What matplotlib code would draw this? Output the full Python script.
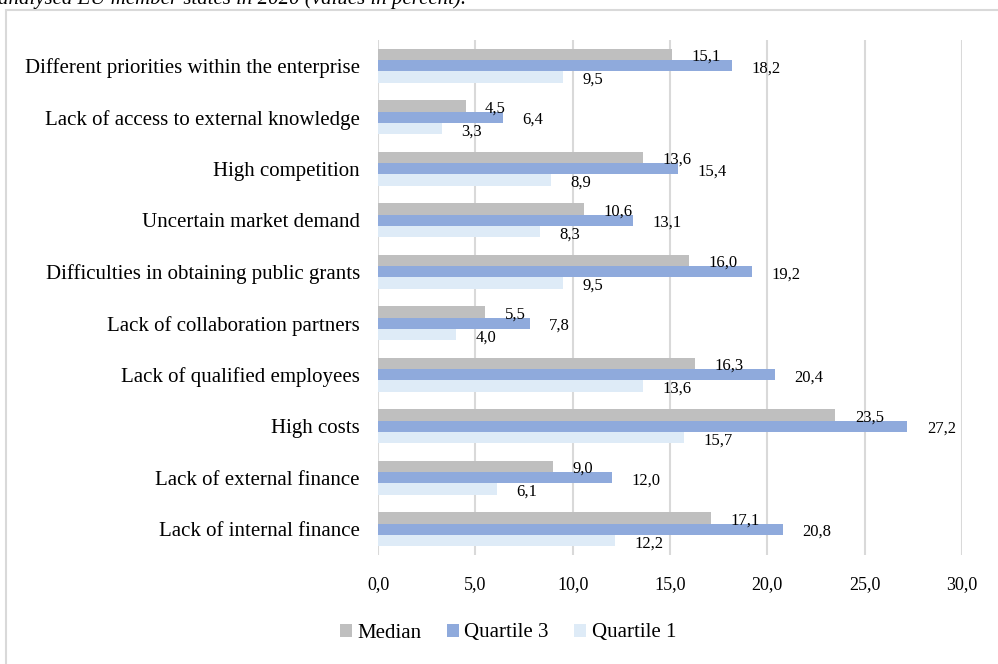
import numpy as np
import matplotlib.pyplot as plt
from matplotlib.patches import Rectangle

# data, top to bottom as in the chart
categories = ['Different priorities within the enterprise',
              'Lack of access to external knowledge',
              'High competition',
              'Uncertain market demand',
              'Difficulties in obtaining public grants',
              'Lack of collaboration partners',
              'Lack of qualified employees',
              'High costs',
              'Lack of external finance',
              'Lack of internal finance']
median = [15.1, 4.5, 13.6, 10.6, 16.0, 5.5, 16.3, 23.5, 9.0, 17.1]
quartile3 = [18.2, 6.4, 15.4, 13.1, 19.2, 7.8, 20.4, 27.2, 12.0, 20.8]
quartile1 = [9.5, 3.3, 8.9, 8.3, 9.5, 4.0, 13.6, 15.7, 6.1, 12.2]
xticks = [0, 5, 10, 15, 20, 25, 30]

plt.rcParams['font.family'] = ['Liberation Serif', 'DejaVu Serif']

W, H = 998, 664
fig = plt.figure(figsize=(W / 100, H / 100), dpi=100)

# chart border (runs off the right and bottom edge)
fig.patches.append(Rectangle((6 / W, -0.05), 1.1, 1 - 10 / H + 0.05,
                             transform=fig.transFigure, fill=False,
                             edgecolor='#d9d9d9', lw=1.5, zorder=0))
# clipped caption line from the page above the chart
fig.text(-0.002, 1 - 4 / H, 'analysed EU member states in 2020 (values in percent).',
         fontsize=15, style='italic', va='baseline', ha='left')

ax = fig.add_axes([378 / W, 1 - 555 / H, (962 - 378) / W, (555 - 40) / H])

y = np.arange(len(categories))
h = 0.222
series = [(median, '#bfbfbf', 'Median', -h),
          (quartile3, '#8faadc', 'Quartile 3', 0.0),
          (quartile1, '#deebf7', 'Quartile 1', h)]

for vals, col, name, off in series:
    ax.barh(y + off, vals, height=h, color=col, label=name, zorder=2)
    for yy, v in zip(y + off, vals):
        ax.annotate('{:.1f}'.format(v).replace('.', ','), (v, yy),
                    xytext=(14, -2), textcoords='offset points',
                    ha='left', va='center', fontsize=12)

ax.set_xlim(0, 30)
ax.set_ylim(len(categories) - 0.5, -0.5)
ax.set_xticks(xticks)
ax.set_xticklabels(['{:.1f}'.format(t).replace('.', ',') for t in xticks], fontsize=13)
ax.set_yticks(y)
ax.set_yticklabels(categories, fontsize=15)
ax.tick_params(axis='both', length=0)
ax.tick_params(axis='y', pad=13)
ax.tick_params(axis='x', pad=15)
ax.grid(axis='x', color='#d9d9d9', lw=1.5, zorder=0)
ax.set_axisbelow(True)
for s in ax.spines.values():
    s.set_visible(False)

leg = fig.legend(loc='center', bbox_to_anchor=(508 / W, 1 - 633 / H), ncol=3,
                 frameon=False, fontsize=15, handlelength=0.6, handleheight=0.6,
                 handletextpad=0.25, columnspacing=1.2)

fig.savefig('out.png', dpi=100)
